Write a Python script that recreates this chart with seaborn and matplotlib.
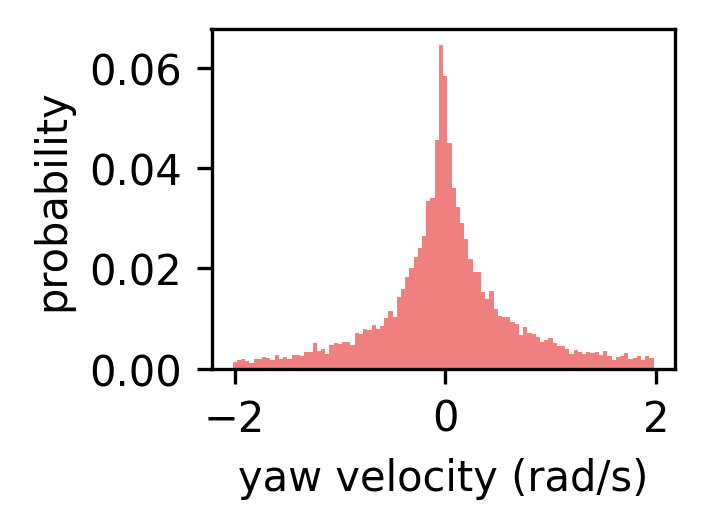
import numpy as np
import pandas as pd
import matplotlib
matplotlib.use("Agg")
import matplotlib.pyplot as plt
import seaborn as sns

# yaw velocity histogram, 100 bins of 0.04 rad/s
bin_start = -2.02
bin_width = 0.04
probability = [
    0.0014, 0.0018, 0.0020, 0.0016, 0.0012, 0.0020, 0.0020, 0.0024, 0.0022, 0.0018,
    0.0028, 0.0020, 0.0024, 0.0020, 0.0028, 0.0028, 0.0026, 0.0034, 0.0034, 0.0052,
    0.0036, 0.0040, 0.0030, 0.0048, 0.0052, 0.0050, 0.0054, 0.0054, 0.0048, 0.0072,
    0.0070, 0.0080, 0.0078, 0.0088, 0.0080, 0.0086, 0.0101, 0.0115, 0.0103, 0.0143,
    0.0159, 0.0183, 0.0201, 0.0223, 0.0241, 0.0265, 0.0334, 0.0340, 0.0456, 0.0645,
    0.0583, 0.0450, 0.0360, 0.0322, 0.0291, 0.0259, 0.0219, 0.0193, 0.0193, 0.0153,
    0.0139, 0.0155, 0.0119, 0.0105, 0.0103, 0.0103, 0.0094, 0.0090, 0.0068, 0.0084,
    0.0072, 0.0070, 0.0064, 0.0054, 0.0058, 0.0062, 0.0052, 0.0046, 0.0046, 0.0040,
    0.0030, 0.0038, 0.0034, 0.0030, 0.0034, 0.0032, 0.0034, 0.0028, 0.0036, 0.0026,
    0.0018, 0.0024, 0.0026, 0.0032, 0.0020, 0.0022, 0.0026, 0.0018, 0.0026, 0.0022,
]
x_ticks = [-2, 0, 2]
y_ticks = [0.0, 0.02, 0.04, 0.06]

n = len(probability)
centers = bin_start + bin_width * (np.arange(n) + 0.5)
df = pd.DataFrame({'yaw': centers, 'p': probability})

# small figure saved at 300 dpi
fig, ax = plt.subplots(figsize=(2.35, 1.7633), dpi=300)
fig.subplots_adjust(left=0.300, right=0.957, bottom=0.301, top=0.943)

sns.histplot(data=df, x='yaw', weights='p', binwidth=bin_width,
             binrange=(bin_start, bin_start + n * bin_width), stat='count',
             color='lightcoral', alpha=1, linewidth=0, ax=ax)

ax.set_xticks(x_ticks)
ax.set_yticks(y_ticks)
ax.set_xlabel('yaw velocity (rad/s)')
ax.set_ylabel('probability')

fig.savefig('out.png', dpi=300)
